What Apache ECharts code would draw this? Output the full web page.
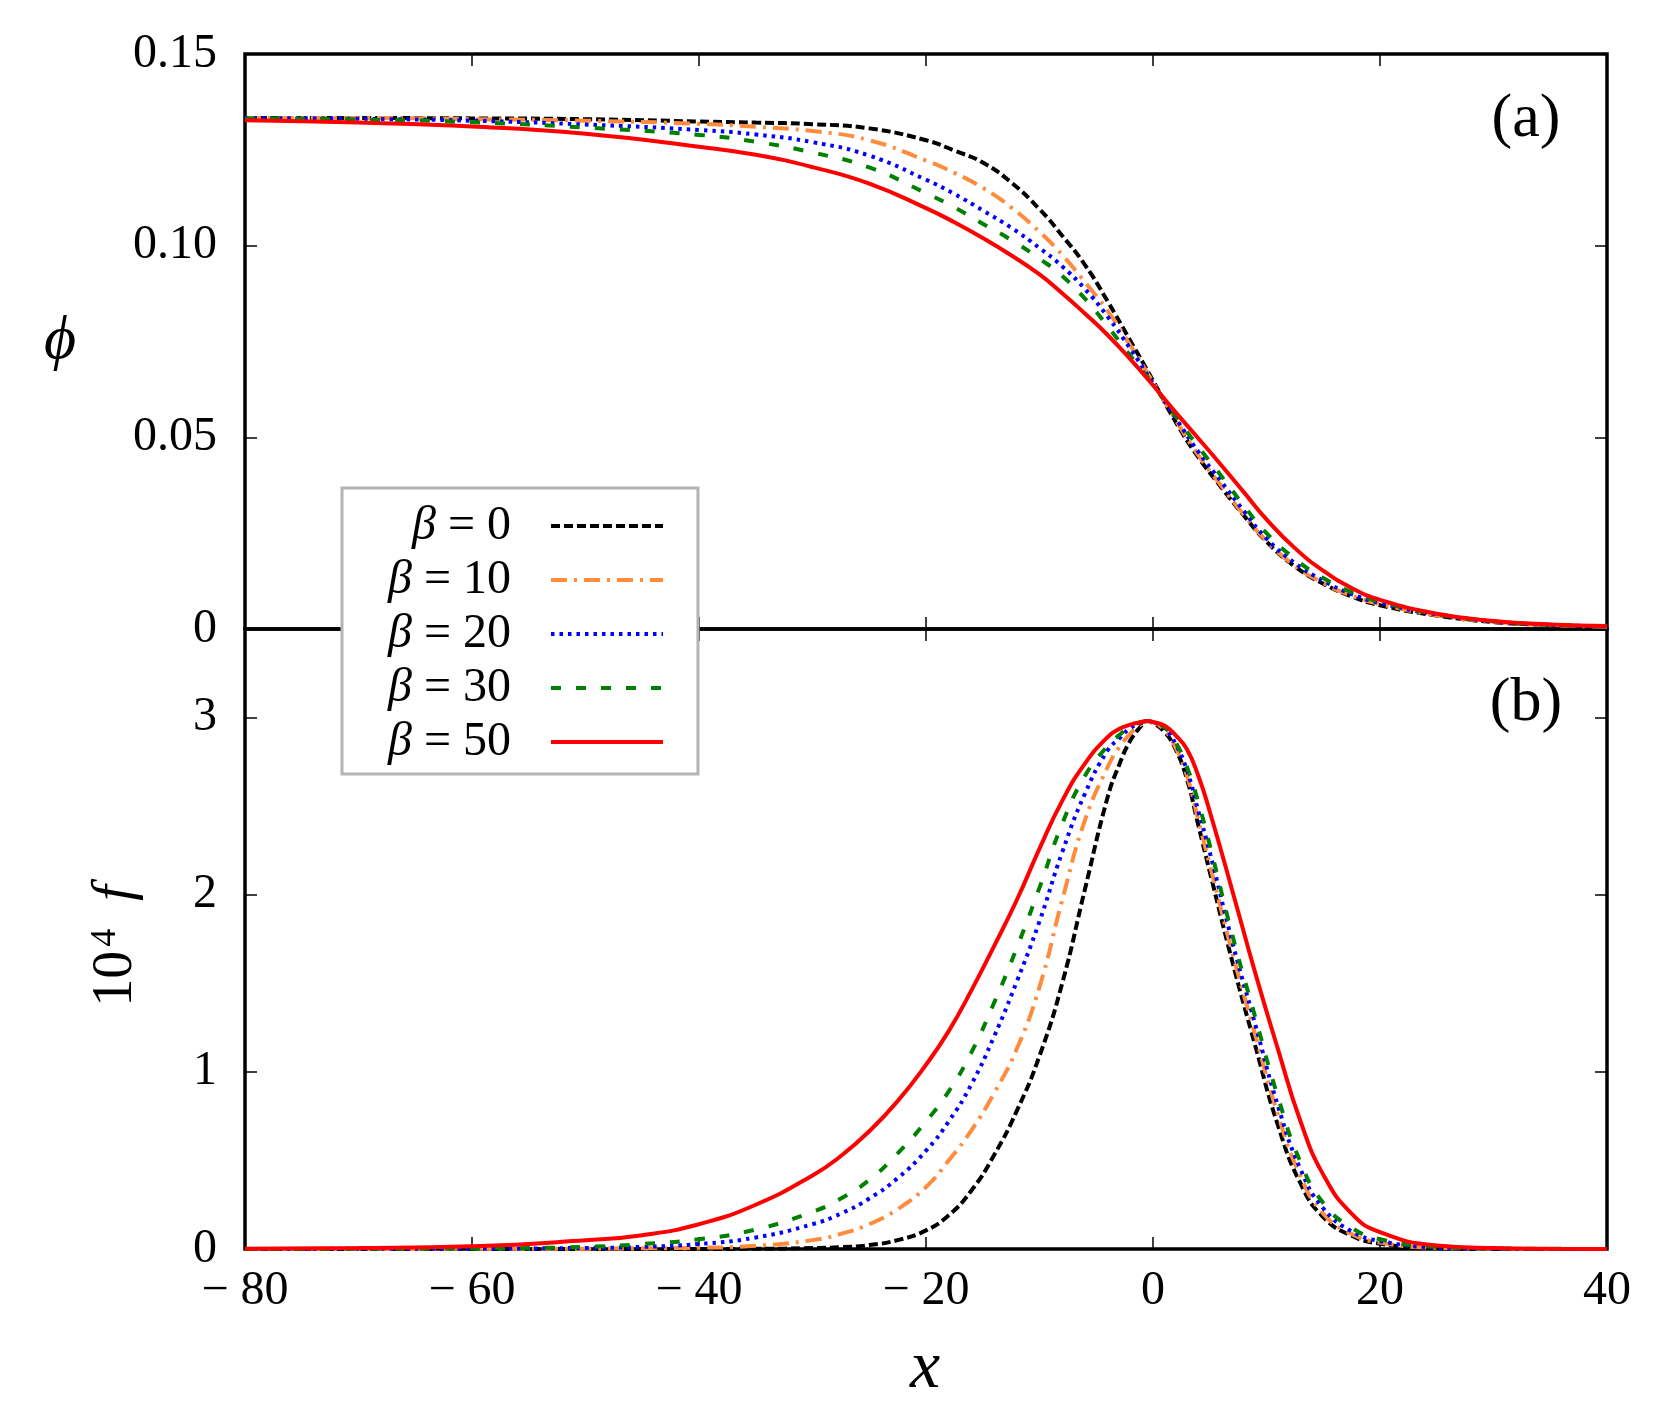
<!DOCTYPE html>
<html>
<head>
<meta charset="UTF-8">
<title>phi and f profiles</title>
<script src="https://cdn.jsdelivr.net/npm/echarts@6/dist/echarts.min.js"></script>
<style>
  html, body { margin: 0; padding: 0; background: #fff; }
  #chart { width: 1664px; height: 1420px; }
</style>
</head>
<body>
<div id="chart"></div>
<script>
// panel (a): phi(x)
var xPhi = [-80, -70, -60, -50, -40, -35, -30, -25, -20, -17.5, -15, -12.5, -10, -8, -6, -4, -2, 0, 2, 4, 6, 8, 10, 12.5, 15, 17.5, 20, 25, 30, 35, 40];
var phiB0  = [.1333, .1333, .1332, .1330, .1324, .1321, .1317, .1306, .1275, .1248, .1217, .1165, .1095, .1026, .0950, .0855, .0752, .0648, .0540, .0448, .0370, .0296, .0228, .0163, .0118, .0085, .0062, .0035, .0018, .0010, .0005];
var phiB10 = [.1333, .1333, .1330, .1326, .1318, .1310, .1299, .1275, .1222, .1190, .1151, .1100, .1036, .0976, .0905, .0830, .0740, .0644, .0545, .0453, .0374, .0298, .0230, .0165, .0120, .0087, .0065, .0036, .0019, .0010, .0006];
var phiB20 = [.1333, .1331, .1326, .1316, .1302, .1290, .1270, .1235, .1172, .1135, .1092, .1047, .0994, .0946, .0887, .0815, .0731, .0641, .0550, .0462, .0385, .0308, .0236, .0172, .0126, .0091, .0068, .0038, .0020, .0011, .0007];
var phiB30 = [.1332, .1329, .1322, .1308, .1289, .1271, .1243, .1204, .1137, .1100, .1057, .1015, .0966, .0921, .0862, .0790, .0713, .0638, .0555, .0475, .0400, .0322, .0250, .0183, .0133, .0096, .0071, .0039, .0020, .0011, .0007];
var phiB50 = [.1327, .1321, .1311, .1292, .1258, .1237, .1205, .1162, .1098, .1061, .1020, .0975, .0925, .0876, .0823, .0767, .0704, .0636, .0565, .0497, .0428, .0357, .0286, .0211, .0152, .0107, .0076, .0040, .0021, .0012, .0008];

// panel (b): 10^4 f(x)
var xF = [-80, -70, -60, -50, -45, -40, -35, -30, -27.5, -25, -22.5, -20, -18, -16, -14, -12, -10, -8, -6, -4, -3, -2, -1, -0.5, 0, 1, 2, 3, 4, 5, 7, 9, 11, 13, 15, 17.5, 20, 25, 30, 35, 40];
var fB0  = [0, 0, 0, 0, 0, 0.0005, 0.001, 0.005, 0.01, 0.022, 0.05, 0.105, 0.19, 0.33, 0.53, 0.78, 1.09, 1.50, 2.03, 2.55, 2.73, 2.87, 2.955, 2.98, 2.97, 2.92, 2.82, 2.65, 2.39, 2.13, 1.62, 1.15, 0.70, 0.37, 0.18, 0.075, 0.03, 0.005, 0.001, 0, 0];
var fB10 = [0, 0, 0.001, 0.002, 0.004, 0.007, 0.018, 0.05, 0.085, 0.14, 0.225, 0.35, 0.50, 0.67, 0.88, 1.13, 1.48, 1.97, 2.42, 2.72, 2.83, 2.91, 2.965, 2.98, 2.975, 2.93, 2.83, 2.67, 2.42, 2.17, 1.67, 1.21, 0.76, 0.41, 0.20, 0.085, 0.036, 0.007, 0.002, 0, 0];
var fB20 = [0, 0.001, 0.002, 0.006, 0.012, 0.028, 0.065, 0.14, 0.20, 0.285, 0.40, 0.555, 0.72, 0.93, 1.20, 1.51, 1.85, 2.24, 2.57, 2.815, 2.88, 2.94, 2.97, 2.98, 2.975, 2.94, 2.85, 2.70, 2.47, 2.24, 1.73, 1.27, 0.81, 0.45, 0.23, 0.10, 0.045, 0.009, 0.002, 0, 0];
var fB30 = [0, 0.001, 0.003, 0.012, 0.028, 0.055, 0.11, 0.21, 0.285, 0.39, 0.54, 0.72, 0.89, 1.11, 1.39, 1.70, 2.04, 2.40, 2.67, 2.84, 2.90, 2.95, 2.975, 2.98, 2.975, 2.945, 2.86, 2.72, 2.52, 2.28, 1.77, 1.31, 0.86, 0.49, 0.26, 0.12, 0.055, 0.012, 0.003, 0.001, 0];
var fB50 = [0.002, 0.005, 0.015, 0.049, 0.078, 0.14, 0.25, 0.415, 0.525, 0.665, 0.835, 1.04, 1.23, 1.46, 1.71, 1.97, 2.26, 2.53, 2.74, 2.89, 2.935, 2.96, 2.975, 2.98, 2.975, 2.955, 2.90, 2.82, 2.67, 2.47, 2.02, 1.56, 1.13, 0.72, 0.42, 0.20, 0.095, 0.02, 0.005, 0.001, 0];

var names = ['β = 0', 'β = 10', 'β = 20', 'β = 30', 'β = 50'];
var phiSets = [phiB0, phiB10, phiB20, phiB30, phiB50];
var fSets = [fB0, fB10, fB20, fB30, fB50];

var font = 'Liberation Serif, DejaVu Serif, serif';
var looks = [
	{color: '#000000', type: [9, 4]},
	{color: '#ff8c3c', type: [16, 7, 3, 7]},
	{color: '#0000ff', type: [3.5, 5]},
	{color: '#008000', type: [10, 15]},
	{color: '#ff0000', type: 'solid'}
];

function pairs(xs, ys) {
	return xs.map(function (x, i) { return [x, ys[i]]; });
}

function xLabel(v) {
	return v < 0 ? '− ' + (-v) : String(v);
}

var tick = {show: true, inside: true, length: 12, lineStyle: {color: '#000', width: 1.5}};

function xAxisFor(grid, pos, labels) {
	return {
		type: 'value', gridIndex: grid, position: pos,
		min: -80, max: 40, interval: 20,
		axisLine: {show: false, onZero: false}, splitLine: {show: false},
		axisTick: tick,
		axisLabel: {show: labels, formatter: xLabel, color: '#000', fontFamily: font, fontSize: 48, margin: 18}
	};
}

function yAxisFor(grid, pos, max, step, labels, fmt) {
	return {
		type: 'value', gridIndex: grid, position: pos,
		min: 0, max: max, interval: step,
		axisLine: {show: false, onZero: false}, splitLine: {show: false},
		axisTick: tick,
		axisLabel: {show: labels, formatter: fmt, color: '#000', fontFamily: font, fontSize: 48, margin: 28}
	};
}

var series = [];
names.forEach(function (n, i) {
	var ls = {color: looks[i].color, width: 4, type: looks[i].type, cap: 'butt'};
	series.push({
		name: n, type: 'line', xAxisIndex: 0, yAxisIndex: 0,
		data: pairs(xPhi, phiSets[i]), symbol: 'none', smooth: 0.5,
		lineStyle: ls, itemStyle: {color: looks[i].color}, z: 3 + i
	});
	series.push({
		name: n, type: 'line', xAxisIndex: 1, yAxisIndex: 1,
		data: pairs(xF, fSets[i]), symbol: 'none', smooth: 0.5,
		lineStyle: ls, itemStyle: {color: looks[i].color}, z: 3 + i
	});
});

var chart = echarts.init(document.getElementById('chart'));
chart.setOption({
	animation: false,
	backgroundColor: '#fff',
	grid: [
		{left: 245, top: 54, width: 1362, height: 575, show: true, borderColor: '#000', borderWidth: 3.5, backgroundColor: 'transparent'},
		{left: 245, top: 629, width: 1362, height: 620, show: true, borderColor: '#000', borderWidth: 3.5, backgroundColor: 'transparent'}
	],
	xAxis: [
		xAxisFor(0, 'bottom', false),
		xAxisFor(1, 'bottom', true),
		xAxisFor(0, 'top', false),
		xAxisFor(1, 'top', false)
	],
	yAxis: [
		yAxisFor(0, 'left', 0.15, 0.05, true, function (v) { return v === 0 ? '0' : v.toFixed(2); }),
		yAxisFor(1, 'left', 3.5, 1, true, function (v) { return Math.abs(v - Math.round(v)) < 1e-9 ? String(Math.round(v)) : ''; }),
		yAxisFor(0, 'right', 0.15, 0.05, false),
		yAxisFor(1, 'right', 3.5, 1, false)
	],
	legend: {
		data: names,
		orient: 'vertical',
		left: 342, top: 488,
		align: 'right',
		itemWidth: 112, itemHeight: 20, itemGap: 6,
		padding: [14, 33, 8, 46],
		backgroundColor: '#fff', borderColor: '#b4b4b4', borderWidth: 3,
		selectedMode: false,
		lineStyle: {width: 4},
		itemStyle: {opacity: 0, borderWidth: 0},
		formatter: function (n) { return '{g|β}' + n.slice(1); },
		textStyle: {
			color: '#000', fontFamily: font, fontSize: 48, lineHeight: 48,
			padding: [0, 35, 0, 0],
			rich: {g: {fontStyle: 'italic', fontFamily: font, fontSize: 48, color: '#000'}}
		}
	},
	graphic: [
		{type: 'text', x: 1526, y: 120, style: {text: '(a)', fontFamily: font, fontSize: 62, fill: '#000', align: 'center', verticalAlign: 'middle'}},
		{type: 'text', x: 1526, y: 704, style: {text: '(b)', fontFamily: font, fontSize: 62, fill: '#000', align: 'center', verticalAlign: 'middle'}},
		{type: 'text', x: 60, y: 342, style: {text: 'ϕ', fontFamily: font, fontStyle: 'italic', fontSize: 62, fill: '#000', align: 'center', verticalAlign: 'middle'}},
		{type: 'text', x: 925, y: 1369, style: {text: 'x', fontFamily: font, fontStyle: 'italic', fontSize: 68, fill: '#000', align: 'center', verticalAlign: 'middle'}},
		{type: 'text', x: 116, y: 946, rotation: Math.PI / 2, style: {
			text: '10{s|4}  {i|f}', fontFamily: font, fontSize: 56, fill: '#000', align: 'center', verticalAlign: 'middle',
			rich: {
				s: {fontFamily: font, fontSize: 36, verticalAlign: 'top', padding: [0, 0, 20, 4]},
				i: {fontFamily: font, fontSize: 56, fontStyle: 'italic'}
			}
		}}
	],
	series: series
});
</script>
</body>
</html>
